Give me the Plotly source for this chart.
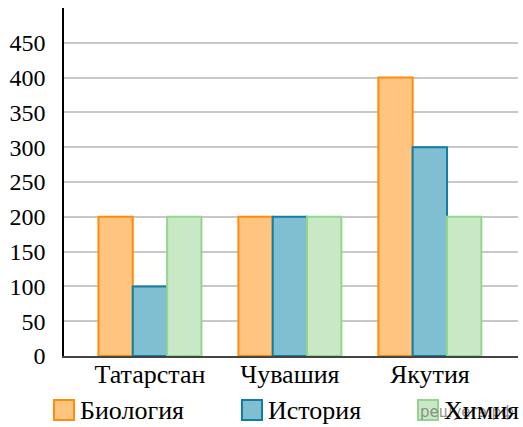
import plotly.graph_objects as go

categories = ["Татарстан", "Чувашия", "Якутия"]
biology = [200, 200, 400]
history = [100, 200, 300]
chemistry = [200, 200, 200]
series_names = ["Биология", "История", "Химия"]
y_ticks = [0, 50, 100, 150, 200, 250, 300, 350, 400, 450]

fills = ["#FFC47F", "#80BFD2", "#C9E8C5"]
borders = ["#FF8C0A", "#117FA3", "#95D68E"]

fig = go.Figure()
for name, vals, f, b in zip(series_names, [biology, history, chemistry], fills, borders):
    fig.add_trace(go.Bar(x=categories, y=vals, name=name, showlegend=False,
                         marker=dict(color=f, line=dict(color=b, width=2))))

FONT = "Liberation Serif"
FS = 24
FS_TXT = 26
fig.update_layout(
    width=523, height=427,
    margin=dict(l=64, r=5, t=8, b=71, autoexpand=False),
    plot_bgcolor="white", paper_bgcolor="white",
    barmode="group", bargap=0.264, bargroupgap=0,
    font=dict(family=FONT, size=FS, color="black"),
    showlegend=False,
    xaxis=dict(range=[-0.614, 2.63], showline=True, linecolor="#444", linewidth=2,
               ticks="", showgrid=False, ticklabelstandoff=-6,
               tickfont=dict(family=FONT, size=FS_TXT, color="black")),
    yaxis=dict(range=[0, 500], tickvals=y_ticks, showline=True, linecolor="black",
               linewidth=1.5, showgrid=True, gridcolor="#C8C8C8", gridwidth=2,
               ticks="", ticklabelstandoff=12, zeroline=False,
               tickfont=dict(family=FONT, size=FS, color="black")),
)

# manual legend (paper coordinates)
W, H = 523, 427
pw, ph = W - 64 - 5, H - 8 - 71
def px(x):
    return (x - 64) / pw
def py(y):
    return (H - 71 - y) / ph
legend_x = [54, 242, 418]
for lx, name, f, b in zip(legend_x, series_names, fills, borders):
    fig.add_shape(type="rect", xref="paper", yref="paper",
                  x0=px(lx), x1=px(lx + 20), y0=py(420), y1=py(400),
                  fillcolor=f, line=dict(color=b, width=2))

fig.add_annotation(text="решуегэ.рф", xref="paper", yref="paper", x=px(418), y=py(412),
                   xanchor="left", yanchor="middle", showarrow=False,
                   font=dict(size=15, color="rgba(120,120,120,0.8)", family="DejaVu Sans"))

for lx, name in zip(legend_x, series_names):
    fig.add_annotation(text=name, xref="paper", yref="paper", x=px(lx + 24), y=py(410),
                       xanchor="left", yanchor="middle", showarrow=False,
                       font=dict(family=FONT, size=FS_TXT, color="black"))

fig.write_html("out.html", config={"displayModeBar": False},
               post_script="document.body.style.margin='0';document.body.style.overflow='hidden';")
